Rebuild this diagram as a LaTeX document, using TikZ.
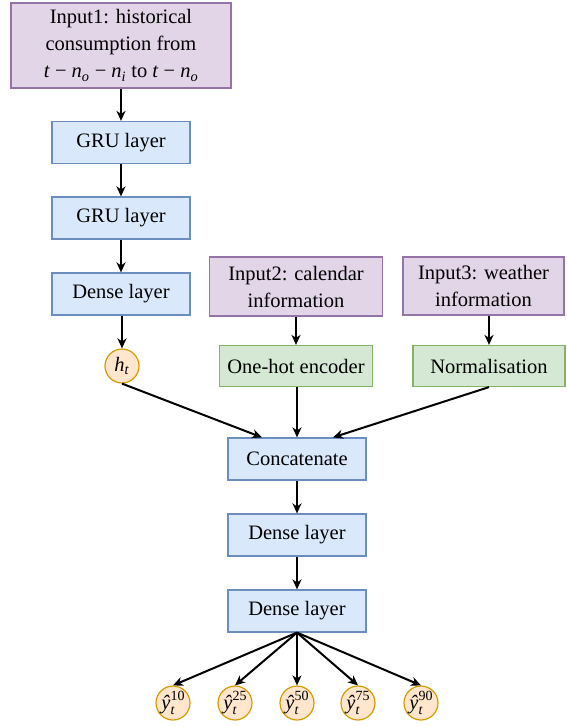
\documentclass[tikz,border=0pt]{standalone}
\usepackage{fontspec}
\setmainfont{LiberationSerif-Regular.ttf}[ItalicFont=LiberationSerif-Italic.ttf, BoldFont=LiberationSerif-Bold.ttf]
\usetikzlibrary{arrows.meta}

% draw.io palette
\definecolor{purpleFill}{HTML}{E1D5E7}\definecolor{purpleLine}{HTML}{9673A6}
\definecolor{blueFill}{HTML}{DAE8FC}\definecolor{blueLine}{HTML}{6C8EBF}
\definecolor{greenFill}{HTML}{D5E8D4}\definecolor{greenLine}{HTML}{82B366}
\definecolor{orangeFill}{HTML}{FFE6CC}\definecolor{orangeLine}{HTML}{D79B00}

\newcommand\vsub[1]{\textsubscript{\textit{#1}}}
\newcommand\quant[1]{\textit{ŷ}\rlap{\raisebox{-0.45ex}{\fontsize{14}{14}\selectfont\textit{t}}}\raisebox{0.95ex}{\fontsize{14}{14}\selectfont #1}}

\tikzset{
  every node/.style={font=\fontsize{20.5}{27}\selectfont, inner sep=0pt},
  inbox/.style={draw=purpleLine, fill=purpleFill, line width=1.2pt, align=center},
  layerbox/.style={draw=blueLine, fill=blueFill, line width=1.2pt, minimum width=138pt, minimum height=42pt},
  prepbox/.style={draw=greenLine, fill=greenFill, line width=1.2pt, minimum height=41pt},
  outcirc/.style={circle, draw=orangeLine, fill=orangeFill, line width=1.2pt, minimum size=34pt},
  link/.style={line width=2pt, -{Stealth[length=10pt, width=9pt, inset=3pt]}}
}

\begin{document}
\begin{tikzpicture}[x=1pt, y=-1pt]
\useasboundingbox (0,0) rectangle (566,726);

% inputs
\node[inbox, minimum width=220pt, minimum height=85pt] (in1) at (121,45.5)
  {Input1: historical\\consumption from\\\textit{t} − \textit{n}\vsub{o} − \textit{n}\vsub{i} to \textit{t} − \textit{n}\vsub{o}};
\node[inbox, minimum width=173pt, minimum height=59pt] (in2) at (296,286.5)
  {Input2: calendar\\information};
\node[inbox, minimum width=161pt, minimum height=58pt] (in3) at (483.5,286)
  {Input3: weather\\information};

% recurrent branch
\node[layerbox] (gru1) at (121,142.5) {GRU layer};
\node[layerbox] (gru2) at (121,218) {GRU layer};
\node[layerbox] (dense0) at (121,294) {Dense layer};
\node[outcirc] (ht) at (122,366) {\textit{h}\vsub{t}};

% preprocessing
\node[prepbox, minimum width=153pt] (onehot) at (296,366) {One-hot encoder};
\node[prepbox, minimum width=152pt] (norm) at (489,366) {Normalisation};

% merged head
\node[layerbox] (concat) at (297,459) {Concatenate};
\node[layerbox] (dense1) at (297,535) {Dense layer};
\node[layerbox] (dense2) at (297,611) {Dense layer};

% quantile outputs
\node[outcirc] (q10) at (173,703) {\quant{10}};
\node[outcirc] (q25) at (235,703) {\quant{25}};
\node[outcirc] (q50) at (297,703) {\quant{50}};
\node[outcirc] (q75) at (358,703) {\quant{75}};
\node[outcirc] (q90) at (421,703) {\quant{90}};

% connectors
\draw[link] (in1.south -| gru1) -- (gru1.north);
\draw[link] (gru1) -- (gru2);
\draw[link] (gru2) -- (dense0);
\draw[link] (dense0.south -| ht) -- (ht.north);
\draw[link] (in2) -- (onehot);
\draw[link] (in3.south -| norm) -- (norm.north);
\draw[link] (ht.south) -- ([xshift=-35pt]concat.north);
\draw[link] (onehot.south -| concat) -- (concat.north);
\draw[link] (norm.south) -- ([xshift=36pt]concat.north);
\draw[link] (concat) -- (dense1);
\draw[link] (dense1) -- (dense2);
\foreach \q in {q10,q25,q50,q75,q90}
  \draw[link] (dense2.south) -- (\q.north);
\end{tikzpicture}
\end{document}
